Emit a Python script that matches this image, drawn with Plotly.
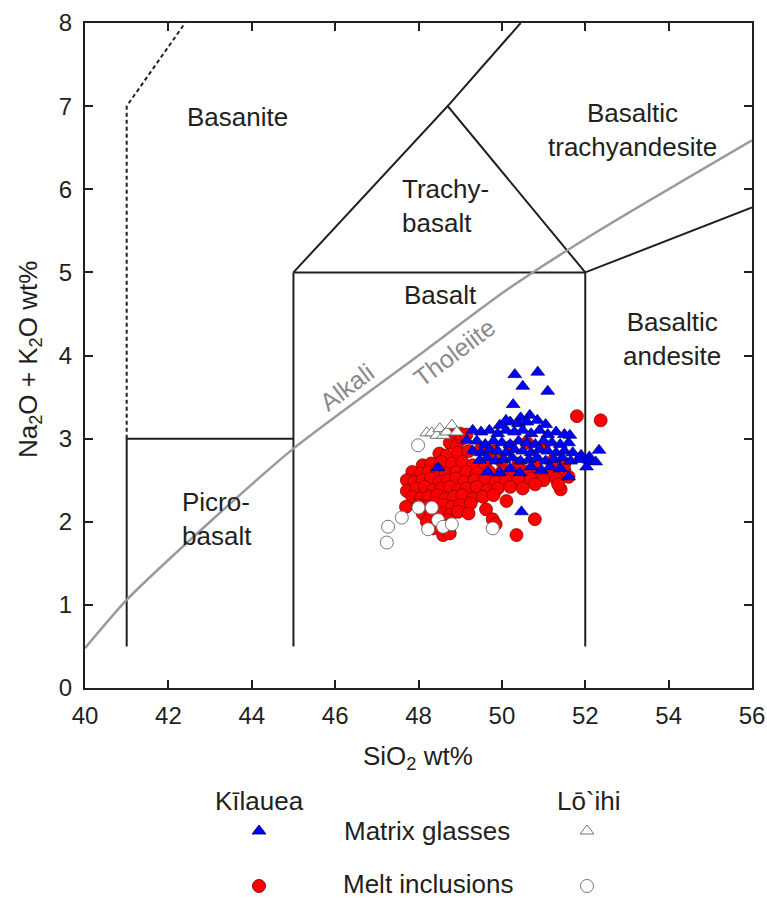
import plotly.graph_objects as go

# ---------------- data ----------------
# Kilauea melt inclusions (red circles)
kil_mi_x = [48.75, 48.92, 49.05, 48.82, 49.0, 49.15,
            48.5, 48.68, 48.95, 49.2, 49.5, 49.8, 50.2, 50.6, 51.0,
            48.1, 48.3, 48.55, 48.8, 49.05, 49.3, 49.6, 50.0, 50.4, 50.8, 51.2, 51.5,
            47.85, 48.05, 48.25, 48.45, 48.65, 48.9, 49.15, 49.4, 49.7, 50.0, 50.3, 50.6, 50.9, 51.2, 51.5,
            47.72, 47.9, 48.1, 48.3, 48.5, 48.7, 48.9, 49.1, 49.35, 49.6, 49.85, 50.1, 50.4, 50.7, 51.0, 51.3,
            47.72, 47.95, 48.15, 48.35, 48.55, 48.75, 48.95, 49.15, 49.4, 49.65, 49.9, 50.2, 50.5, 50.8, 51.41,
            47.85, 48.05, 48.25, 48.45, 48.65, 48.85, 49.05, 49.3, 49.55, 49.8,
            47.7, 48.0, 48.2, 48.4, 48.6, 48.8, 49.0, 49.25, 49.62, 50.11,
            48.1, 48.3, 48.55, 48.75, 48.95, 49.2,
            48.2, 48.45, 48.7, 49.78, 49.85,
            48.59, 48.75, 48.35,
            51.8, 52.37, 50.79, 50.35, 51.6, 51.35]
kil_mi_y = [2.95, 2.92, 3.0, 3.08, 3.06, 3.05,
            2.82, 2.8, 2.83, 2.85, 2.88, 2.85, 2.9, 2.95, 2.9,
            2.68, 2.7, 2.72, 2.7, 2.72, 2.68, 2.7, 2.72, 2.7, 2.7, 2.72, 2.7,
            2.6, 2.58, 2.6, 2.62, 2.58, 2.6, 2.6, 2.58, 2.6, 2.6, 2.58, 2.6, 2.58, 2.6, 2.62,
            2.5, 2.48, 2.5, 2.52, 2.48, 2.5, 2.52, 2.48, 2.5, 2.5, 2.48, 2.5, 2.5, 2.52, 2.5, 2.52,
            2.37, 2.4, 2.42, 2.38, 2.4, 2.42, 2.38, 2.4, 2.42, 2.38, 2.4, 2.42, 2.4, 2.45, 2.39,
            2.3, 2.28, 2.3, 2.32, 2.28, 2.3, 2.32, 2.28, 2.3, 2.32,
            2.18, 2.2, 2.18, 2.22, 2.2, 2.18, 2.2, 2.22, 2.15, 2.25,
            2.1, 2.08, 2.1, 2.08, 2.12, 2.1,
            2.0, 1.98, 2.02, 2.03, 1.97,
            1.84, 1.86, 1.92,
            3.27, 3.22, 2.03, 1.84, 2.54, 2.45]

# Kilauea matrix glasses (blue triangles)
kil_mg_x = [50.67, 50.45, 50.2, 50.4, 50.6, 50.85, 51.05, 49.95, 50.1,
            49.3, 49.5, 49.7, 49.9, 50.1, 50.3, 50.5, 50.7, 50.9, 51.1, 51.3, 51.5, 51.63,
            49.16, 49.4, 49.6, 49.8, 50.0, 50.2, 50.4, 50.6, 50.8, 51.0, 51.2, 51.4, 51.6,
            49.3, 49.5, 49.7, 49.9, 50.1, 50.3, 50.5, 50.7, 50.9, 51.1, 51.3, 51.5, 51.7, 51.9, 52.1,
            49.47, 49.65, 49.85, 50.05, 50.25, 50.45, 50.65, 50.85, 51.05, 51.25, 51.45, 51.65, 51.85, 52.03, 52.1, 52.25,
            49.66, 49.95, 50.43, 50.95, 51.15, 50.2, 50.7, 51.4,
            50.31, 50.86, 50.5, 51.1, 50.27, 52.33, 50.47, 51.6, 48.47]
kil_mg_y = [3.28, 3.25, 3.2, 3.18, 3.2, 3.22, 3.17, 3.16, 3.22,
            3.1, 3.08, 3.1, 3.06, 3.1, 3.08, 3.1, 3.06, 3.1, 3.05, 3.08, 3.05, 3.04,
            2.98, 2.97, 2.93, 2.97, 2.95, 2.93, 2.97, 2.95, 2.93, 2.97, 2.95, 2.93, 2.95,
            2.85, 2.83, 2.87, 2.85, 2.83, 2.87, 2.85, 2.83, 2.87, 2.85, 2.83, 2.85, 2.83, 2.8, 2.78,
            2.74, 2.77, 2.73, 2.75, 2.77, 2.73, 2.75, 2.77, 2.73, 2.75, 2.77, 2.73, 2.75, 2.66, 2.74, 2.72,
            2.6, 2.59, 2.59, 2.62, 2.66, 2.64, 2.66, 2.64,
            3.77, 3.8, 3.63, 3.57, 3.41, 2.86, 2.12, 2.54, 2.65]

# Lo`ihi matrix glasses (open triangles)
loi_mg_x = [48.2, 48.32, 48.44, 48.51, 48.6, 48.68, 48.8, 48.92]
loi_mg_y = [3.07, 3.07, 3.04, 3.12, 3.04, 3.08, 3.16, 3.08]

# Lo`ihi melt inclusions (open circles)
loi_mi_x = [47.99, 47.27, 47.24, 47.6, 48.0, 48.32, 48.23, 48.47, 48.59, 48.8, 49.78]
loi_mi_y = [2.92, 1.94, 1.75, 2.05, 2.17, 2.17, 1.91, 2.02, 1.94, 1.97, 1.92]

# TAS field boundaries (SiO2, total alkali)
solid_bounds = [
    ([41, 41, 45], [0.5, 3, 3]),
    ([45, 45], [0.5, 5]),
    ([45, 52], [5, 5]),
    ([52, 52], [0.5, 5]),
    ([45, 48.7, 52], [5, 7, 5]),
    ([48.7, 50.45], [7, 8]),
    ([52, 56], [5, 5.78]),
]
dashed_x = [41, 41, 42.4]
dashed_y = [3, 7, 8]

# alkali / tholeiite divide
div_x = [40, 41, 43, 45, 48, 50.12, 52.35, 56]
div_y = [0.48, 1.06, 2.0, 2.88, 4.0, 4.79, 5.51, 6.59]

field_labels = ["Basanite", "Trachy-<br>basalt", "Basaltic<br>trachyandesite", "Basalt",
                "Basaltic<br>andesite", "Picro-<br>basalt"]
field_x = [43.65, 47.55, 53.14, 48.53, 54.08, 42.28]
field_y = [6.87, 5.8, 6.71, 4.73, 4.2, 2.03]
field_anchor = ["center", "left", "center", "center", "center", "left"]

# ---------------- figure ----------------
W, H = 767, 898
PL, PR, PT, PB = 85, 752, 23, 688   # plot box in pixels
FONT = "Liberation Sans, Arial, Helvetica, sans-serif"
TXT = "#231f20"
LAB = 26

fig = go.Figure()

for bx, by in solid_bounds:
    fig.add_trace(go.Scatter(x=bx, y=by, mode="lines",
                             line=dict(color="#231f20", width=2), hoverinfo="skip"))
fig.add_trace(go.Scatter(x=dashed_x, y=dashed_y, mode="lines",
                         line=dict(color="#231f20", width=2, dash="4px,3px"), hoverinfo="skip"))
fig.add_trace(go.Scatter(x=div_x, y=div_y, mode="lines",
                         line=dict(color="#9a9a9a", width=2.5, shape="spline", smoothing=0.6),
                         hoverinfo="skip"))

fig.add_trace(go.Scatter(x=kil_mi_x, y=kil_mi_y, mode="markers", name="Kīlauea melt inclusions",
                         marker=dict(symbol="circle", size=13, color="#ff0000",
                                     line=dict(color="#7a0000", width=0.7))))
fig.add_trace(go.Scatter(x=loi_mi_x, y=loi_mi_y, mode="markers", name="Lō`ihi melt inclusions",
                         marker=dict(symbol="circle", size=13, color="white",
                                     line=dict(color="#666666", width=0.9))))
fig.add_trace(go.Scatter(x=loi_mg_x, y=loi_mg_y, mode="markers", name="Lō`ihi matrix glasses",
                         marker=dict(symbol="triangle-up", size=12, color="white",
                                     line=dict(color="#666666", width=0.9))))
fig.add_trace(go.Scatter(x=kil_mg_x, y=kil_mg_y, mode="markers", name="Kīlauea matrix glasses",
                         marker=dict(symbol="triangle-up", size=12, color="#0000ff",
                                     line=dict(color="#000060", width=0.7))))

# ---- legend drawn on an overlay pixel axis ----
leg_sym = ["triangle-up", "circle", "triangle-up", "circle"]
leg_fill = ["#0000ff", "#ff0000", "white", "white"]
leg_line = ["#000060", "#7a0000", "#666666", "#666666"]
leg_px = [259, 259, 587, 587]
leg_py = [831, 886, 831, 886]
leg_size = [12, 13, 12, 13]
for s, f, lc, px, py, sz in zip(leg_sym, leg_fill, leg_line, leg_px, leg_py, leg_size):
    fig.add_trace(go.Scatter(x=[px], y=[py], xaxis="x2", yaxis="y2", mode="markers",
                             marker=dict(symbol=s, size=sz, color=f, line=dict(color=lc, width=0.9)),
                             hoverinfo="skip"))

ann = []
for t, x, y, a in zip(field_labels, field_x, field_y, field_anchor):
    ann.append(dict(x=x, y=y, xref="x", yref="y", text=t, showarrow=False, xanchor=a,
                    align=a if a != "center" else "center",
                    font=dict(size=LAB, color=TXT, family=FONT)))
ann.append(dict(x=46.28, y=3.62, xref="x", yref="y", text="Alkali", showarrow=False,
                textangle=-37, font=dict(size=25, color="#8a8a8a", family=FONT)))
ann.append(dict(x=48.87, y=4.04, xref="x", yref="y", text="Tholeiite", showarrow=False,
                textangle=-37, font=dict(size=25, color="#8a8a8a", family=FONT)))

def paper(px, py):
    return px / W, 1 - py / H

texts = [("SiO<sub>2</sub> wt%", 418, 757, 0),
         ("Na<sub>2</sub>O + K<sub>2</sub>O wt%", 29, 360, -90),
         ("Kīlauea", 259, 801, 0),
         ("Lō`ihi", 589, 801, 0),
         ("Matrix glasses", 427, 831, 0),
         ("Melt inclusions", 429, 884, 0)]
for t, px, py, ang in texts:
    xp, yp = paper(px, py)
    ann.append(dict(x=xp, y=yp, xref="paper", yref="paper", text=t, showarrow=False,
                    xanchor="center", yanchor="middle", textangle=ang,
                    font=dict(size=LAB, color=TXT, family=FONT)))

axis_common = dict(ticks="inside", ticklen=8, tickwidth=1.5, tickcolor="#231f20",
                   showline=True, linewidth=2, linecolor="#231f20", mirror="ticks",
                   showgrid=False, zeroline=False, automargin=False,
                   tickfont=dict(size=24, color=TXT, family=FONT))

fig.update_layout(
    width=W, height=H, margin=dict(l=0, r=0, t=0, b=0, autoexpand=False),
    paper_bgcolor="white", plot_bgcolor="rgba(0,0,0,0)", showlegend=False,
    xaxis=dict(domain=[PL / W, PR / W], range=[40, 56], tick0=40, dtick=2,
               ticklabelstandoff=5, **axis_common),
    yaxis=dict(domain=[1 - PB / H, 1 - PT / H], range=[0, 8], tick0=0, dtick=1,
               ticklabelstandoff=6, **axis_common),
    xaxis2=dict(domain=[0, 1], range=[0, W], visible=False, anchor="y2", fixedrange=True,
                automargin=False),
    yaxis2=dict(domain=[0, 1], range=[H, 0], visible=False, anchor="x2", fixedrange=True,
                automargin=False),
    annotations=ann,
)

fig.write_html("out.html")
